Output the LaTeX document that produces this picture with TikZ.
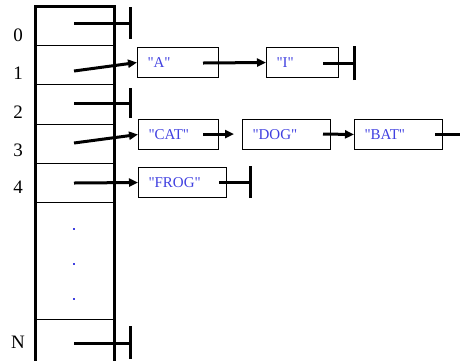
\documentclass[tikz,border=0pt]{standalone}
\usepackage{fontspec}
\setmainfont{Liberation Serif}
\usetikzlibrary{arrows.meta}
\definecolor{strblue}{RGB}{64,64,224}
\newcommand{\qt}[1]{\textquotedbl#1\textquotedbl}
\tikzset{
  thick line/.style={line width=3pt},
  divider/.style={line width=1pt},
  ptr/.style={line width=3pt},
  arr/.style={ptr,-{Triangle[length=9pt,width=8pt]}},
  nullbar/.style={line width=3pt},
  listbox/.style={draw,line width=1pt,rectangle,minimum height=30pt,inner xsep=10pt,inner ysep=0pt,
     align=left,anchor=north west,text=strblue,font=\fontsize{15}{15}\selectfont},
  idx/.style={font=\fontsize{19}{19}\selectfont},
  dot/.style={fill=strblue,minimum size=2.8pt,inner sep=0pt,rectangle}
}
\begin{document}
\begin{tikzpicture}[x=1pt,y=-1pt]
\useasboundingbox (0,0) rectangle (460,360);

% the bucket array
\foreach \yy in {45,84,124,163,202,319}
  \draw[divider] (35,\yy) -- (114,\yy);
\draw[thick line] (35,361) -- (35,6) -- (114,6) -- (114,361);

% index labels
\node[idx] (i0) at (18,35) {0};
\node[idx] (i1) at (18,73) {1};
\node[idx] (i2) at (18,112) {2};
\node[idx] (i3) at (18,150) {3};
\node[idx] (i4) at (18,187) {4};
\node[idx] (iN) at (18,342) {N};

% vertical ellipsis
\node[dot] (d1) at (74,229) {};
\node[dot] (d2) at (74,264) {};
\node[dot] (d3) at (74,299) {};

% pointer origins in the array slots
\coordinate (p0) at (74,23);
\coordinate (p1) at (74,71);
\coordinate (p2) at (74,103);
\coordinate (p3) at (74,143);
\coordinate (p4) at (74,183);
\coordinate (pN) at (74,343);

% null terminators
\coordinate (n0) at (130,23);
\coordinate (n2) at (130,103);
\coordinate (nN) at (130,343);

% list nodes
\node[listbox,text width=61pt] (A) at (137,47) {\qt{A}};
\node[listbox,text width=52pt] (I) at (266,47) {\qt{I}};
\node[listbox,text width=60pt] (CAT) at (138,119) {\qt{CAT}};
\node[listbox,text width=68pt] (DOG) at (242,119) {\qt{DOG}};
\node[listbox,text width=68pt] (BAT) at (354,119) {\qt{BAT}};
\node[listbox,text width=68pt] (FROG) at (138,167) {\qt{FROG}};

% next-pointer origins inside the list nodes
\coordinate (qA) at (203,63);
\coordinate (qI) at (323,63);
\coordinate (qCAT) at (203,134);
\coordinate (qDOG) at (323,134);
\coordinate (qBAT) at (435,134);
\coordinate (qFROG) at (219,182);
\coordinate (nI) at (354,63);
\coordinate (nFROG) at (250,182);
\coordinate (eBAT) at (461,134);
\coordinate (tDOG) at (234,134);

% slot pointers
\draw[ptr] (p0) -- (n0);
\draw[nullbar] ([yshift=-16pt]n0) -- ([yshift=16pt]n0);
\draw[arr] (p1) -- (A.west);
\draw[ptr] (p2) -- (n2);
\draw[nullbar] ([yshift=-15pt]n2) -- ([yshift=15pt]n2);
\draw[arr] (p3) -- (CAT.west);
\draw[arr] (p4) -- (FROG.west);
\draw[ptr] (pN) -- (nN);
\draw[nullbar] ([yshift=-16pt]nN) -- ([yshift=17pt]nN);

% list links
\draw[arr] (qA) -- (I.west);
\draw[ptr] (qI) -- (nI);
\draw[nullbar] ([yshift=-17pt]nI) -- ([yshift=17pt]nI);
\draw[arr] (qCAT) -- (tDOG);
\draw[arr] (qDOG) -- (BAT.west);
\draw[ptr] (qBAT) -- (eBAT);
\draw[ptr] (qFROG) -- (nFROG);
\draw[nullbar] ([yshift=-16pt]nFROG) -- ([yshift=16pt]nFROG);
\end{tikzpicture}
\end{document}
